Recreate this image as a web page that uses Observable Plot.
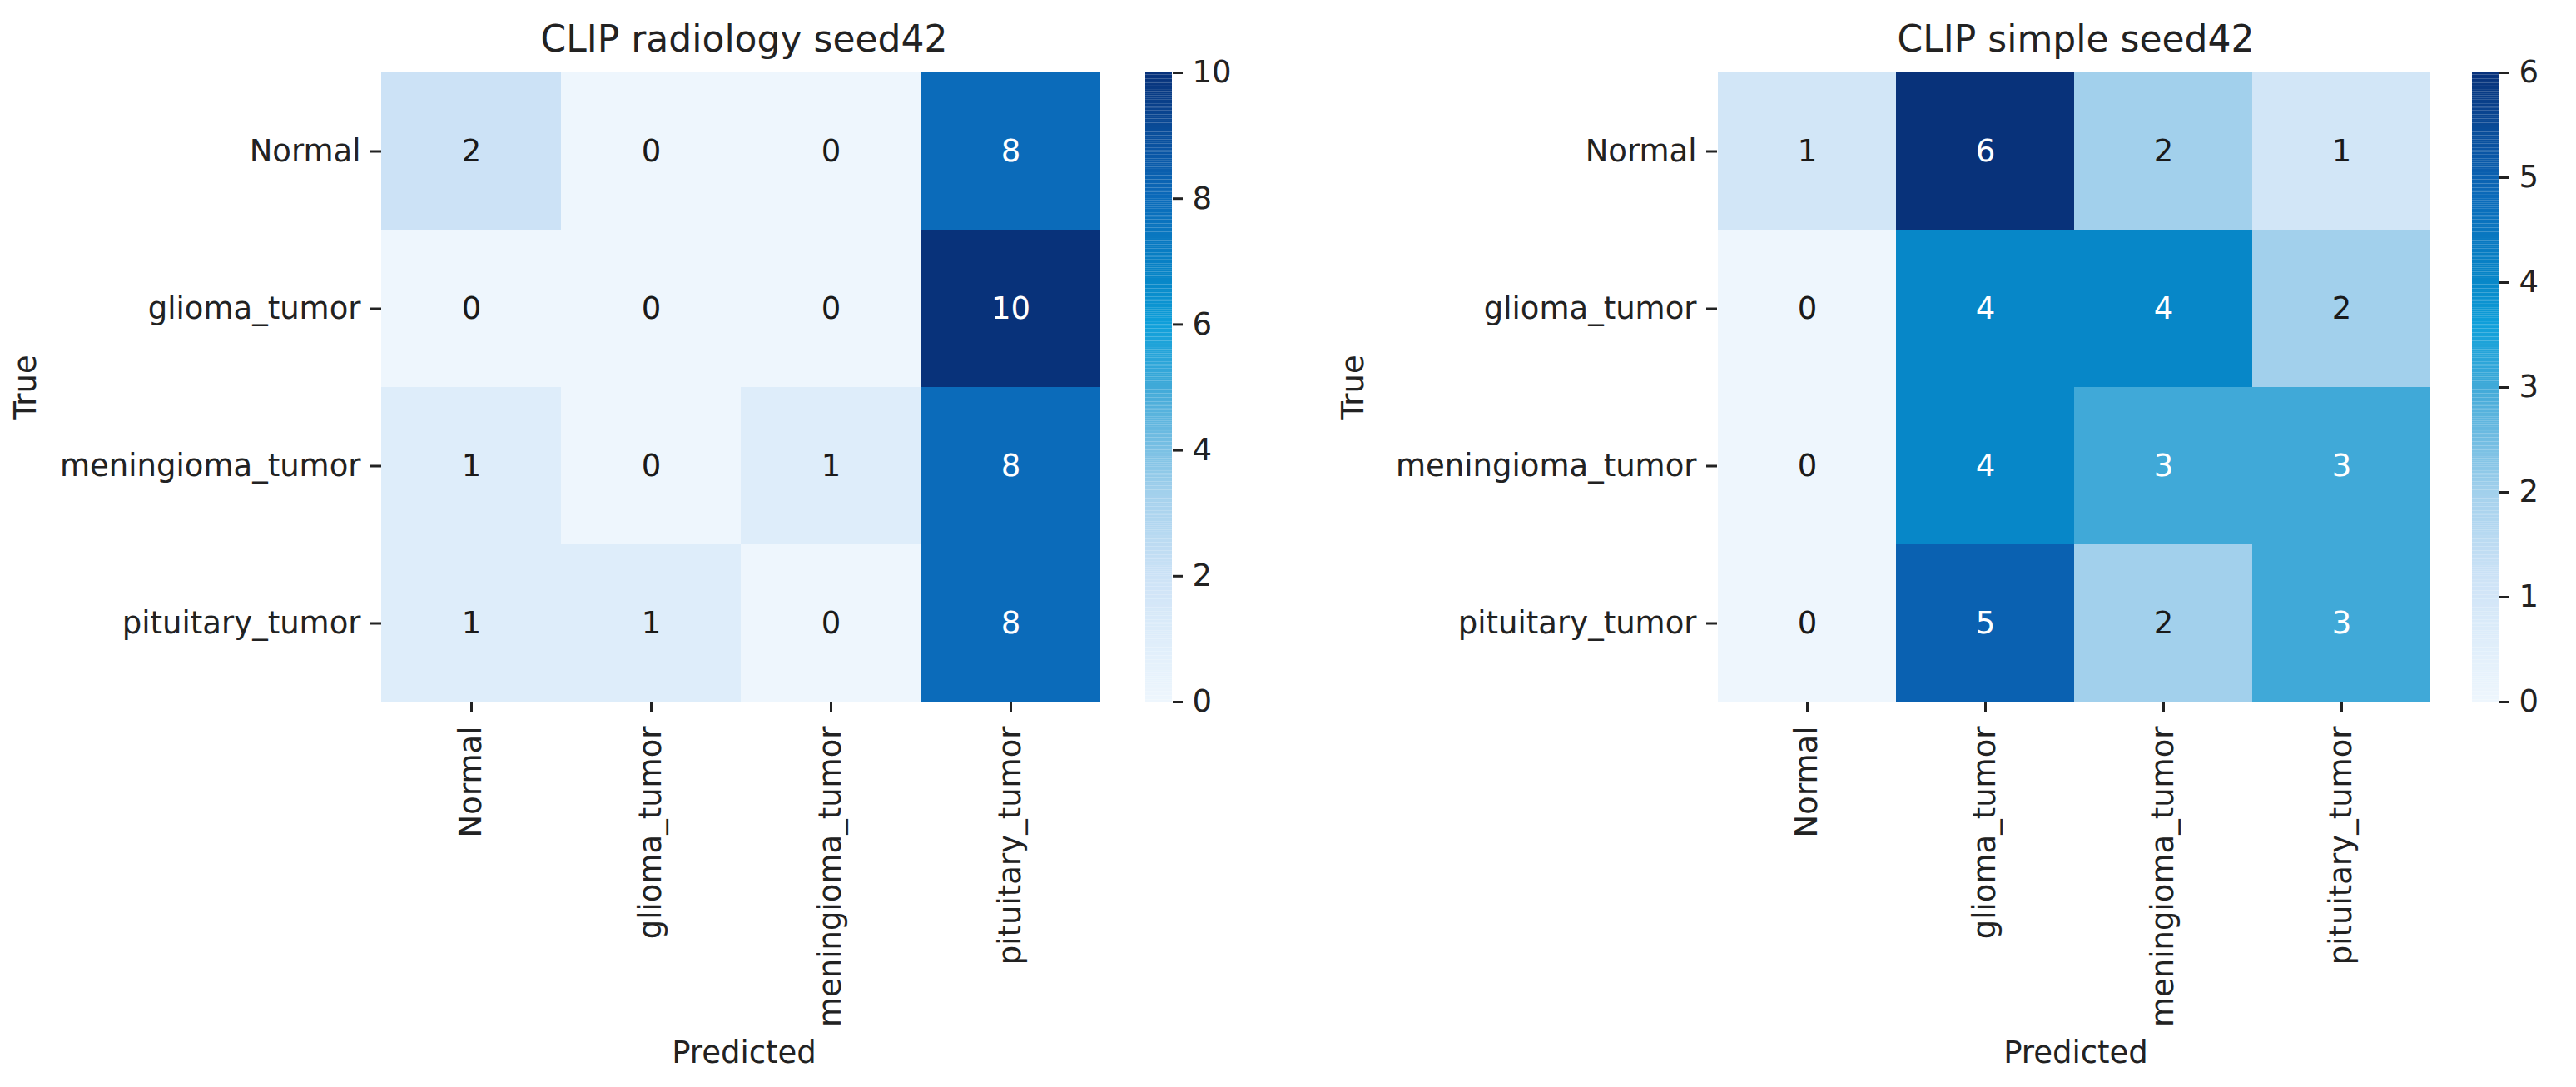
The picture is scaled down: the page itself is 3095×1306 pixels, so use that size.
<!DOCTYPE html>
<html>
<head>
<meta charset="utf-8">
<script src="https://cdn.jsdelivr.net/npm/d3@7"></script>
<script src="https://cdn.jsdelivr.net/npm/@observablehq/plot@0.6"></script>
<style>
  html, body { margin: 0; padding: 0; background: #fff; }
  #root { position: relative; width: 3095px; height: 1306px; background: #fff; font-family: "DejaVu Sans", sans-serif; color: #222; }
  .abs { position: absolute; }
  .title { font-size: 44px; line-height: 44px; text-align: center; width: 900px; }
  .axlabel { font-size: 37px; line-height: 37px; text-align: center; width: 400px; }
</style>
</head>
<body>
<div id="root"></div>
<script>
// ---- data ----
const classes = ["Normal", "glioma_tumor", "meningioma_tumor", "pituitary_tumor"];
const radiologyTitle = "CLIP radiology seed42";
const simpleTitle = "CLIP simple seed42";
const radiologyValues = [
  [2, 0, 0, 8],
  [0, 0, 0, 10],
  [1, 0, 1, 8],
  [1, 1, 0, 8]
];
const simpleValues = [
  [1, 6, 2, 1],
  [0, 4, 4, 2],
  [0, 4, 3, 3],
  [0, 5, 2, 3]
];
const radiologyTicks = [0, 2, 4, 6, 8, 10];
const simpleTicks = [0, 1, 2, 3, 4, 5, 6];
const xLabel = "Predicted";
const yLabel = "True";

// colour ramp (fraction of max -> colour)
const rampStops = [0, 0.1, 0.2, 0.333, 0.5, 0.6, 0.667, 0.8, 0.85, 1];
const rampColors = ["#eef6fd", "#deedfa", "#cce2f6", "#a2d0ec", "#40a9d8", "#0fa0da", "#0787c8", "#0b6bba", "#0a5cac", "#08327a"];

const root = document.getElementById("root");
const FONT = "DejaVu Sans, sans-serif";

function tidy(values) {
  const rows = [];
  values.forEach((row, i) => row.forEach((v, j) => rows.push({t: classes[i], p: classes[j], v})));
  return rows;
}

function colorScale(max) {
  return {type: "linear", domain: rampStops.map(s => s * max), range: rampColors, interpolate: "rgb"};
}

function place(el, left, top) {
  el.style.position = "absolute";
  el.style.left = left + "px";
  el.style.top = top + "px";
  root.appendChild(el);
}

function addText(cls, text, cx, cy, w, rotate) {
  const d = document.createElement("div");
  d.className = "abs " + cls;
  d.textContent = text;
  const h = cls === "title" ? 44 : 37;
  d.style.width = w + "px";
  d.style.left = (cx - w / 2) + "px";
  d.style.top = (cy - h / 2) + "px";
  if (rotate) d.style.transform = "rotate(-90deg)";
  root.appendChild(d);
}

const MT = 87, MB = 463, ML = 462, H = 1306;

function heatmap(values, max, frameLeft, frameWidth) {
  const data = tidy(values);
  const svg = Plot.plot({
    width: ML + frameWidth + 10,
    height: H,
    marginLeft: ML,
    marginRight: 10,
    marginTop: MT,
    marginBottom: MB,
    style: {fontFamily: FONT, fontSize: "37px", color: "#222", background: "transparent", overflow: "visible"},
    x: {domain: classes, padding: 0, label: null, tickRotate: -90, tickSize: 13, tickPadding: 16},
    y: {domain: classes, padding: 0, label: null, tickSize: 13, tickPadding: 12},
    color: colorScale(max),
    marks: [
      Plot.cell(data, {x: "p", y: "t", fill: "v", inset: 0}),
      Plot.text(data, {x: "p", y: "t", text: d => String(d.v), fontSize: 37,
        fill: d => d.v / max >= 0.5 ? "#ffffff" : "#1a1a1a"}),
      Plot.axisX({tickRotate: -90, tickSize: 13, tickPadding: 16, strokeWidth: 3, label: null}),
      Plot.axisY({tickSize: 13, tickPadding: 12, strokeWidth: 3, label: null})
    ]
  });
  place(svg, frameLeft - ML, 0);
}

function colorbar(max, ticks, barLeft, barWidth) {
  const N = 300;
  const steps = d3.range(N);
  const svg = Plot.plot({
    width: barWidth + 95,
    height: H,
    marginLeft: 0,
    marginRight: 95,
    marginTop: MT,
    marginBottom: MB,
    style: {fontFamily: FONT, fontSize: "37px", color: "#222", background: "transparent", overflow: "visible"},
    x: {domain: [0, 1], axis: null},
    y: {domain: [0, max], axis: null},
    color: colorScale(max),
    marks: [
      Plot.rect(steps, {x1: 0, x2: 1, y1: i => i * max / N, y2: i => (i + 1.02) * max / N, fill: i => (i + 0.5) * max / N}),
      Plot.axisY({anchor: "right", ticks: ticks, tickFormat: d => String(d), tickSize: 12, tickPadding: 12, strokeWidth: 3, label: null})
    ]
  });
  place(svg, barLeft, 0);
}

// left panel
heatmap(radiologyValues, 10, 458, 864);
colorbar(10, radiologyTicks, 1376, 32);
addText("title", radiologyTitle, 894, 47, 900);
addText("axlabel", xLabel, 894, 1264, 400);
addText("axlabel", yLabel, 30, 465, 200, true);

// right panel
heatmap(simpleValues, 6, 2063, 858);
colorbar(6, simpleTicks, 2970, 32);
addText("title", simpleTitle, 2494, 47, 900);
addText("axlabel", xLabel, 2494, 1264, 400);
addText("axlabel", yLabel, 1625, 465, 200, true);
</script>
</body>
</html>
